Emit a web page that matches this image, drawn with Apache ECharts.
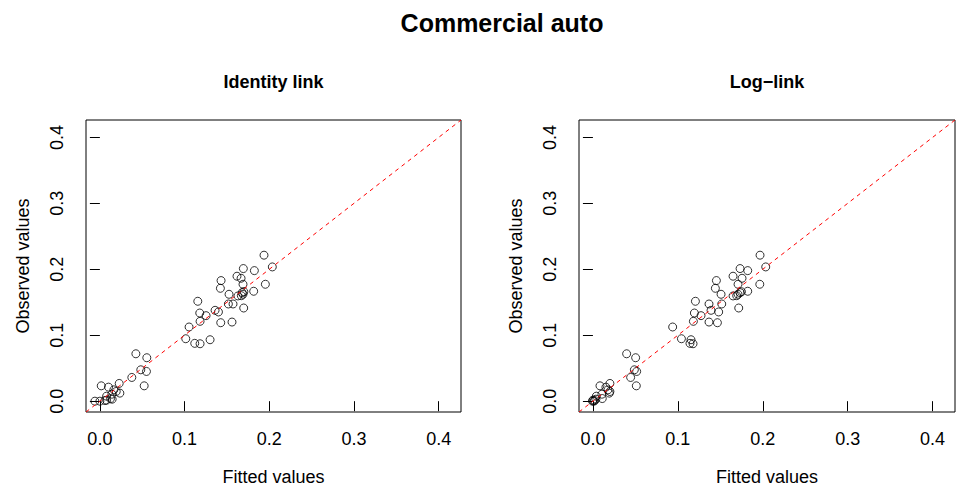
<!DOCTYPE html>
<html>
<head>
<meta charset="utf-8">
<title>Commercial auto</title>
<script src="https://cdn.jsdelivr.net/npm/echarts@6/dist/echarts.min.js"></script>
<style>
  html, body { margin: 0; padding: 0; background: #fff; }
  #chart { width: 960px; height: 491px; }
</style>
</head>
<body>
<div id="chart"></div>
<script>
// Observed loss values (shared by both panels)
const observed = [
  0.2214, 0.2036, 0.2011, 0.1980, 0.1895, 0.1864, 0.1829, 0.1773, 0.1773, 0.1712,
  0.1667, 0.1621, 0.1646, 0.1621, 0.1600, 0.1660, 0.1596, 0.1474, 0.1474, 0.1515,
  0.1413, 0.1378, 0.1353, 0.1337, 0.1297, 0.1211, 0.1190, 0.1200, 0.1125, 0.0947,
  0.0932, 0.0877, 0.0871, 0.0719, 0.0659, 0.0476, 0.0451, 0.0360, 0.0233, 0.0233,
  0.0213, 0.0269, 0.0172, 0.0147, 0.0122, 0.0106, 0.0076, 0.0040, 0.0030, 0.0010,
  0.0000, 0.0000, 0.0015
];

// Fitted values, identity link model
const fittedIdentity = [
  0.1938, 0.2036, 0.1694, 0.1824, 0.1619, 0.1667, 0.1431, 0.1690, 0.1954, 0.1423,
  0.1816, 0.1525, 0.1680, 0.1690, 0.1670, 0.1700, 0.1630, 0.1517, 0.1572, 0.1156,
  0.1698, 0.1360, 0.1400, 0.1179, 0.1254, 0.1183, 0.1427, 0.1560, 0.1053, 0.1014,
  0.1301, 0.1120, 0.1183, 0.0425, 0.0554, 0.0483, 0.0550, 0.0377, 0.0523, 0.0016,
  0.0102, 0.0228, 0.0165, 0.0193, 0.0236, 0.0142, 0.0079, 0.0126, 0.0145, 0.0059,
  0.0000, -0.0059, 0.0079
];

// Fitted values, log-link model
const fittedLog = [
  0.1968, 0.2035, 0.1733, 0.1823, 0.1650, 0.1756, 0.1454, 0.1709, 0.1965, 0.1442,
  0.1823, 0.1509, 0.1733, 0.1709, 0.1693, 0.1749, 0.1650, 0.1517, 0.1367, 0.1207,
  0.1717, 0.1391, 0.1481, 0.1195, 0.1273, 0.1183, 0.1466, 0.1367, 0.0939, 0.1042,
  0.1155, 0.1143, 0.1179, 0.0397, 0.0503, 0.0488, 0.0515, 0.0444, 0.0511, 0.0083,
  0.0153, 0.0200, 0.0177, 0.0200, 0.0193, 0.0106, 0.0040, 0.0110, 0.0035, 0.0020,
  0.0010, -0.0005, 0.0000
];

// Axis ticks and range (0 to 0.41 padded by 4% each side)
const tickValues = [0, 0.1, 0.2, 0.3, 0.4];
const AXIS_MIN = -0.0164;
const AXIS_MAX = 0.4264;

const mainTitle = 'Commercial auto';
const panelTitles = ['Identity link', 'Log\u2212link'];
const xLabel = 'Fitted values';
const yLabel = 'Observed values';

const FONT = '"Liberation Sans", Arial, Helvetica, sans-serif';

const pairs = (xs, ys) => xs.map((x, i) => [x, ys[i]]);

const grids = [
  { left: 86, top: 120, width: 375, height: 293 },
  { left: 579, top: 120, width: 376, height: 293 }
];

function makeXAxis(i) {
  return {
    gridIndex: i, type: 'value', min: AXIS_MIN, max: AXIS_MAX,
    axisLine: { show: false },
    axisTick: { show: true, inside: false, length: 10, customValues: tickValues,
      lineStyle: { color: '#000', width: 1 } },
    axisLabel: { customValues: tickValues, formatter: v => v.toFixed(1),
      margin: 18, fontSize: 18, color: '#000', fontFamily: FONT },
    splitLine: { show: false },
    name: xLabel, nameLocation: 'middle', nameGap: 56,
    nameTextStyle: { fontSize: 18, color: '#000', fontFamily: FONT }
  };
}
function makeYAxis(i) {
  return {
    gridIndex: i, type: 'value', min: AXIS_MIN, max: AXIS_MAX,
    axisLine: { show: false },
    axisTick: { show: true, inside: false, length: 10, customValues: tickValues,
      lineStyle: { color: '#000', width: 1 } },
    axisLabel: { customValues: tickValues, formatter: v => v.toFixed(1), rotate: 90,
      margin: 20, fontSize: 18, color: '#000', fontFamily: FONT },
    splitLine: { show: false },
    name: yLabel, nameLocation: 'middle', nameGap: 54,
    nameTextStyle: { fontSize: 18, color: '#000', fontFamily: FONT }
  };
}

function scatterSeries(i, xs) {
  return {
    type: 'scatter', xAxisIndex: i, yAxisIndex: i,
    data: pairs(xs, observed),
    symbol: 'circle', symbolSize: 8,
    itemStyle: { color: 'rgba(0,0,0,0)', borderColor: '#000', borderWidth: 1 },
    silent: true, z: 2
  };
}
function diagonalSeries(i) {
  return {
    type: 'line', xAxisIndex: i, yAxisIndex: i,
    data: [[AXIS_MIN, AXIS_MIN], [AXIS_MAX, AXIS_MAX]],
    symbol: 'none', clip: true, silent: true, z: 3,
    lineStyle: { color: '#ff0000', width: 1, type: [4, 4] }
  };
}

const chart = echarts.init(document.getElementById('chart'), null, { renderer: 'svg' });
chart.setOption({
  animation: false,
  backgroundColor: '#fff',
  grid: grids.map(g => Object.assign({ show: true, borderColor: '#000', borderWidth: 1,
    backgroundColor: 'transparent' }, g)),
  xAxis: [makeXAxis(0), makeXAxis(1)],
  yAxis: [makeYAxis(0), makeYAxis(1)],
  series: [
    scatterSeries(0, fittedIdentity), diagonalSeries(0),
    scatterSeries(1, fittedLog), diagonalSeries(1)
  ],
  graphic: [
    { type: 'text', x: 502, y: 23, style: { text: mainTitle, fill: '#000',
      font: 'bold 25px ' + FONT, textAlign: 'center', textVerticalAlign: 'middle' } },
    { type: 'text', x: grids[0].left + grids[0].width / 2, y: 82, style: { text: panelTitles[0],
      fill: '#000', font: 'bold 18px ' + FONT, textAlign: 'center', textVerticalAlign: 'middle' } },
    { type: 'text', x: grids[1].left + grids[1].width / 2, y: 82, style: { text: panelTitles[1],
      fill: '#000', font: 'bold 18px ' + FONT, textAlign: 'center', textVerticalAlign: 'middle' } }
  ]
});
</script>
</body>
</html>
